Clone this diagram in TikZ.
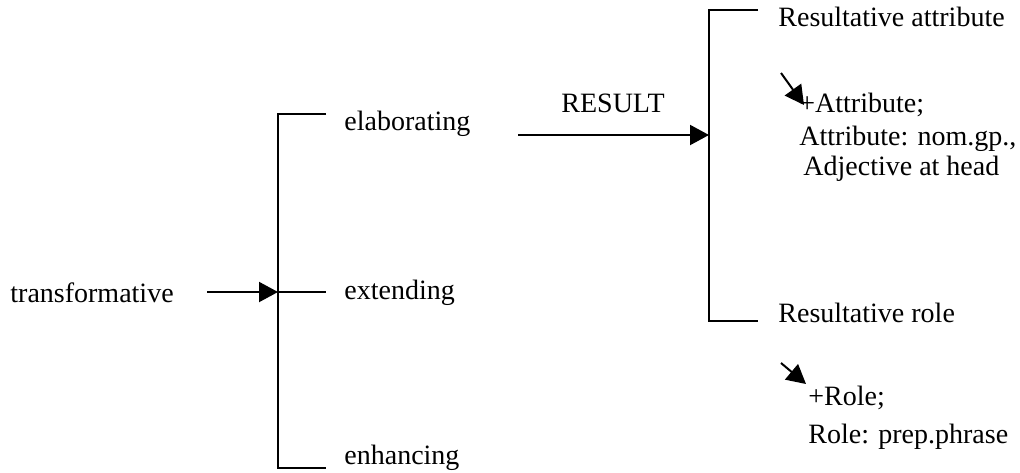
\documentclass[tikz,border=0pt]{standalone}
\usepackage{fontspec}
\setmainfont{Liberation Serif}
\usetikzlibrary{arrows.meta}
\begin{document}
\begin{tikzpicture}[x=0.5pt,y=-0.5pt,
    lbl/.style={anchor=west,inner sep=0pt,font=\fontsize{14pt}{17pt}\selectfont},
    brk/.style={line width=1pt},
    arr/.style={line width=1pt,-{Triangle[length=9.5pt,width=10pt]}}]
    \useasboundingbox (0,0) rectangle (1020,472);
            % ---------- transformative ----------
            \node[lbl] (trans) at (10,293) {transformative};
            \coordinate (t0) at (207,292);
            \coordinate (j1) at (278,292);
            \draw[arr] (t0) -- (j1);
            % ---------- first bracket ----------
            \draw[brk] (326,114) -- (278,114) -- (278,468) -- (326,468);
            \draw[brk] (j1) -- (326,292);
            \node[lbl] (elab) at (344,124) {elaborating};
            \node[lbl] (ext) at (344,293) {extending};
            \node[lbl] (enh) at (344,458) {enhancing};
            % ---------- RESULT ----------
            \coordinate (r0) at (518,135);
            \coordinate (j2) at (709,135);
            \draw[arr] (r0) -- (j2);
            \node[lbl,anchor=center] (res) at (613,103) {RESULT};
            % ---------- second bracket ----------
            \draw[brk] (758,10) -- (709,10) -- (709,321) -- (758,321);
            \node[lbl] (rattr) at (778,17) {Resultative attribute};
            \node[lbl] (rrole) at (778,313) {Resultative role};
            % ---------- attribute ----------
            \coordinate (a0) at (781,73);
            \coordinate (a1) at (804,105);
            \draw[arr] (a0) -- (a1);
            \node[lbl] (attr1) at (799,105) {+Attribute;};
            \node[lbl] (attr2) at (799,139) {Attribute: nom.gp.,};
            \node[lbl] (attr3) at (803,169) {Adjective at head};
            % ---------- role ----------
            \coordinate (b0) at (781,363);
            \coordinate (b1) at (806,384);
            \draw[arr] (b0) -- (b1);
            \node[lbl] (role1) at (808,398) {+Role;};
            \node[lbl] (role2) at (808,437) {Role: prep.phrase};
\end{tikzpicture}
\end{document}
